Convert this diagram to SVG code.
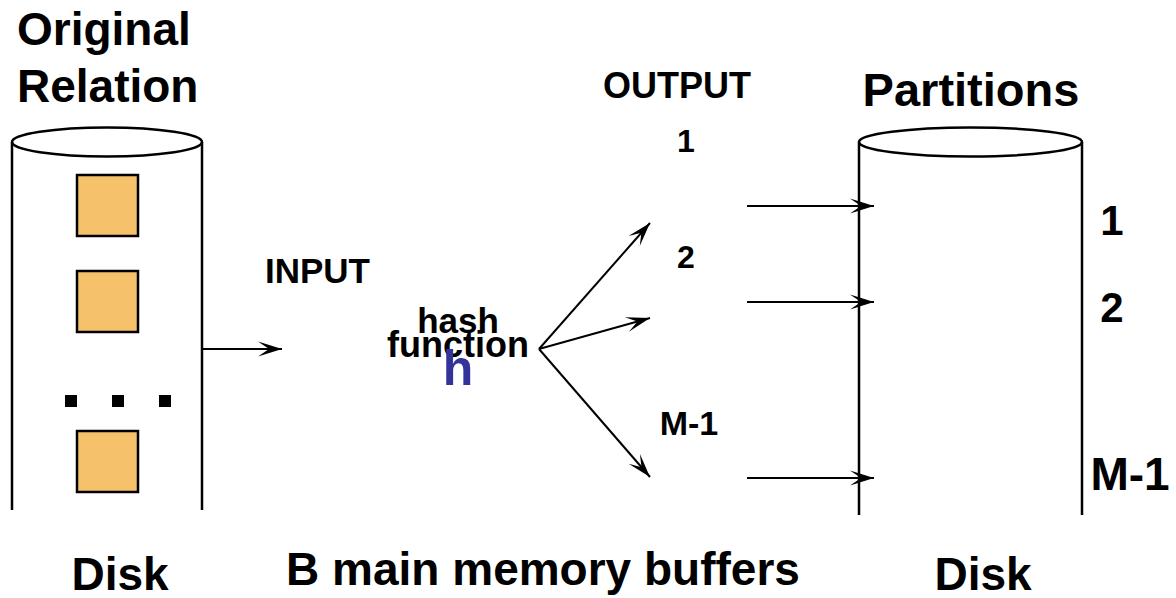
<svg xmlns="http://www.w3.org/2000/svg" width="1176" height="598" viewBox="0 0 1176 598">
<style>
.t{font-family:"Liberation Sans",Arial,sans-serif;font-weight:bold;fill:#000}
.cyl{fill:none;stroke:#000;stroke-width:2.5}
.blk{fill:#F5C26B;stroke:#000;stroke-width:2.5}
.con{fill:none;stroke:#000;stroke-width:2}
</style>
<defs>
<marker id="ah" markerUnits="userSpaceOnUse" markerWidth="26" markerHeight="18" viewBox="-25 -9 26 18" refX="0" refY="0" orient="auto">
<path d="M0,0 L-24,-7.5 L-13,0 L-24,7.5 Z" fill="#000"/>
</marker>
</defs>
<rect width="1176" height="598" fill="#fff"/>
<g id="title-left">
<text class="t" x="17" y="45" font-size="46">Original</text>
<text class="t" x="17" y="102" font-size="46">Relation</text>
</g>
<g id="disk-left">
<line class="cyl" x1="12" y1="142" x2="12" y2="510"/>
<line class="cyl" x1="202" y1="142" x2="202" y2="510"/>
<ellipse class="cyl" cx="107" cy="142" rx="95" ry="14.5" fill="#fff"/>
<rect class="blk" x="77" y="175" width="61" height="61"/>
<rect class="blk" x="77" y="271" width="61" height="61"/>
<rect class="blk" x="77" y="431" width="61" height="61"/>
<rect x="65" y="395" width="12" height="12" fill="#000"/>
<rect x="112" y="395" width="12" height="12" fill="#000"/>
<rect x="159" y="395" width="12" height="12" fill="#000"/>
</g>
<g id="disk-right">
<line class="cyl" x1="859" y1="142" x2="859" y2="515"/>
<line class="cyl" x1="1082" y1="142" x2="1082" y2="515"/>
<ellipse class="cyl" cx="970.5" cy="142" rx="111.5" ry="14.5" fill="#fff"/>
</g>
<g id="buffers">
<text class="t" x="265" y="283" font-size="35">INPUT</text>
<text class="t" x="677" y="98" font-size="36" text-anchor="middle">OUTPUT</text>
<text class="t" x="686" y="152" font-size="32" text-anchor="middle">1</text>
<text class="t" x="686" y="268" font-size="32" text-anchor="middle">2</text>
<text class="t" x="689" y="435" font-size="34" text-anchor="middle">M-1</text>
</g>
<g id="hash">
<text class="t" x="458" y="333" font-size="35" text-anchor="middle">hash</text>
<text class="t" x="458" y="357" font-size="36" text-anchor="middle">function</text>
<text x="458" y="385" font-size="50" text-anchor="middle" font-family="Liberation Sans,Arial,sans-serif" font-weight="bold" fill="#333399">h</text>
</g>
<g id="partitions">
<text class="t" x="971" y="106" font-size="47" text-anchor="middle">Partitions</text>
<text class="t" x="1112" y="235" font-size="42" text-anchor="middle">1</text>
<text class="t" x="1112" y="322" font-size="42" text-anchor="middle">2</text>
<text class="t" x="1130" y="490" font-size="46" text-anchor="middle">M-1</text>
</g>
<g id="labels">
<text class="t" x="120" y="590" font-size="46" text-anchor="middle">Disk</text>
<text class="t" x="543" y="585" font-size="46" text-anchor="middle">B main memory buffers</text>
<text class="t" x="983" y="590" font-size="46" text-anchor="middle">Disk</text>
</g>
<g id="connectors">
<line class="con" x1="203" y1="349" x2="282" y2="349" marker-end="url(#ah)"/>
<line class="con" x1="539" y1="349" x2="650" y2="223" marker-end="url(#ah)"/>
<line class="con" x1="539" y1="349" x2="650" y2="318" marker-end="url(#ah)"/>
<line class="con" x1="539" y1="349" x2="650" y2="477" marker-end="url(#ah)"/>
<line class="con" x1="747" y1="206" x2="874" y2="206" marker-end="url(#ah)"/>
<line class="con" x1="747" y1="302" x2="874" y2="302" marker-end="url(#ah)"/>
<line class="con" x1="747" y1="478" x2="874" y2="478" marker-end="url(#ah)"/>
</g>
</svg>
